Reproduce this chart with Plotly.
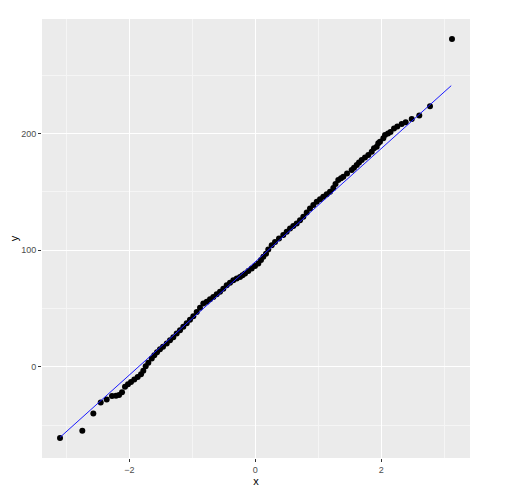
import plotly.graph_objects as go

# theoretical quantiles (x) and sample values (y)
sample_x = [
    -3.100, -2.746, -2.571, -2.454, -2.359, -2.275, -2.211, -2.163, -2.116, -2.068,
    -2.021, -1.973, -1.921, -1.867, -1.814, -1.778, -1.740, -1.698, -1.644, -1.603,
    -1.560, -1.513, -1.465, -1.406, -1.354, -1.302, -1.248, -1.195, -1.143, -1.089,
    -1.037, -0.984, -0.930, -0.878, -0.825, -0.771, -0.719, -0.667, -0.613, -0.560,
    -0.508, -0.454, -0.402, -0.349, -0.295, -0.243, -0.203, -0.163, -0.111, -0.057,
    -0.005, 0.048, 0.090, 0.127, 0.170, 0.206, 0.260, 0.313, 0.376, 0.444,
    0.498, 0.551, 0.603, 0.657, 0.710, 0.762, 0.816, 0.868, 0.921, 0.975,
    1.027, 1.079, 1.133, 1.186, 1.238, 1.273, 1.317, 1.360, 1.397, 1.456,
    1.530, 1.567, 1.610, 1.646, 1.689, 1.741, 1.794, 1.848, 1.884, 1.927,
    1.952, 1.979, 2.032, 2.059, 2.106, 2.146, 2.202, 2.254, 2.324, 2.387,
    2.483, 2.603, 2.773, 3.122,
]
sample_y = [
    -60.9, -54.7, -39.9, -30.5, -27.9, -24.9, -24.7, -24.0, -21.7, -17.0,
    -14.8, -12.9, -10.8, -8.6, -6.3, -3.3, 0.6, 3.6, 7.2, 10.0,
    12.6, 15.2, 17.3, 20.1, 22.9, 25.5, 28.6, 31.5, 34.5, 37.5,
    40.5, 43.5, 47.1, 50.7, 54.3, 55.9, 58.0, 60.0, 62.3, 64.3,
    67.0, 70.0, 72.2, 74.3, 75.8, 77.1, 78.6, 80.1, 82.2, 84.3,
    86.5, 88.6, 91.5, 94.3, 97.0, 100.5, 104.3, 107.1, 110.1, 112.9,
    115.7, 118.6, 120.8, 122.9, 125.7, 128.6, 132.2, 135.6, 138.6, 141.4,
    143.7, 145.7, 148.0, 150.0, 153.2, 156.6, 160.0, 161.7, 162.9, 165.6,
    168.6, 170.7, 172.9, 175.0, 177.2, 179.3, 181.5, 184.3, 187.2, 188.6,
    191.5, 192.9, 195.8, 198.6, 199.9, 201.2, 204.3, 205.9, 208.0, 209.5,
    212.3, 215.3, 223.2, 280.9,
]

# reference line end points
line_x = [-3.10, 3.11]
line_y = [-60.3, 240.9]

fig = go.Figure()

fig.add_trace(
    go.Scatter(
        x=sample_x,
        y=sample_y,
        mode="markers",
        marker=dict(color="black", size=6),
        showlegend=False,
    )
)

fig.add_trace(
    go.Scatter(
        x=line_x,
        y=line_y,
        mode="lines",
        line=dict(color="#1a1aff", width=1),
        showlegend=False,
    )
)

axis_common = dict(
    showgrid=True,
    gridcolor="white",
    gridwidth=1.1,
    zeroline=False,
    showline=False,
    automargin=False,
    ticks="outside",
    ticklen=3,
    tickwidth=1,
    tickcolor="#333333",
    tickfont=dict(family="Liberation Sans", size=9, color="#4D4D4D"),
    title_font=dict(family="Liberation Sans", size=11, color="black"),
)

# the page puts the figure 8px in from the top-left corner
fig.update_layout(
    width=525,
    height=487,
    margin=dict(l=34, r=63, t=11, b=37),
    paper_bgcolor="white",
    plot_bgcolor="#EBEBEB",
    xaxis=dict(
        axis_common,
        range=[-3.386, 3.408],
        tick0=0,
        dtick=2,
        minor=dict(tick0=1, dtick=2, showgrid=True, gridcolor="#F5F5F5", gridwidth=0.6, ticks=""),
        title=dict(text="x", standoff=0),
    ),
    yaxis=dict(
        axis_common,
        range=[-78, 298],
        tick0=0,
        dtick=100,
        minor=dict(tick0=50, dtick=100, showgrid=True, gridcolor="#F5F5F5", gridwidth=0.6, ticks=""),
        title=dict(text="y", standoff=0),
    ),
)

fig.write_html("out.html")
